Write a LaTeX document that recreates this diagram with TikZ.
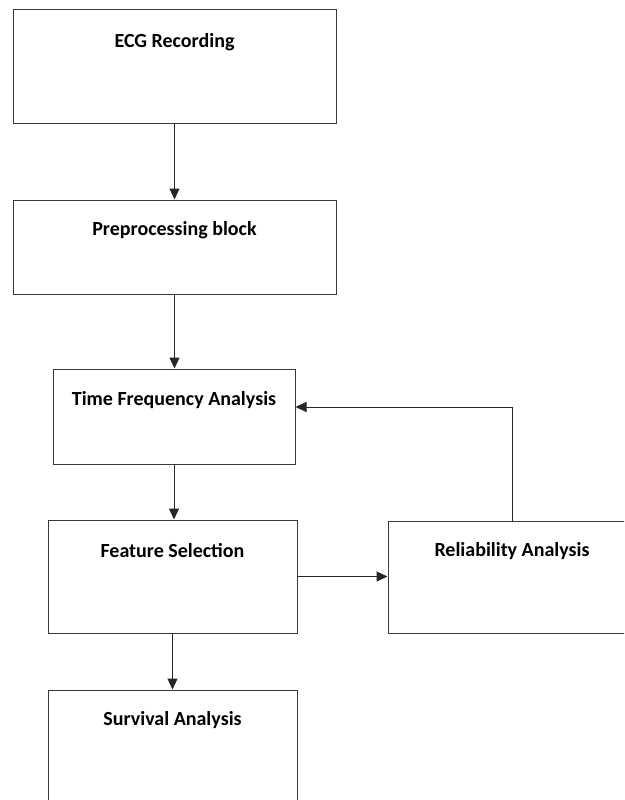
\documentclass[tikz,border=0pt]{standalone}
\usepackage{fontspec}
\setmainfont{Carlito}
\usepackage{tikz}
\usetikzlibrary{arrows.meta,positioning,calc}
\definecolor{BoxLine}{HTML}{3A3A3A}

\tikzset{
  stage/.style={draw=BoxLine,line width=1pt,rectangle,inner sep=0pt},
  flow/.style={draw=black!85,line width=1pt,-{Triangle[length=11pt,width=10pt]}}
}

\begin{document}
\begin{tikzpicture}[x=1pt,y=-1pt,font=\fontsize{20}{24}\selectfont\bfseries]
  \useasboundingbox (0,0) rectangle (624,800);
  \clip (0,0) rectangle (624,800);
  % blocks (text sits near the top of each box)
  \node[stage,minimum width=323pt,minimum height=113pt,
        label={[anchor=center,yshift=-33pt]north:ECG Recording}] (ecg) at (174.5,66.5) {};
  \node[stage,minimum width=323pt,minimum height=94pt,
        label={[anchor=center,yshift=-31pt]north:Preprocessing block}] (pre) at (174.5,247) {};
  \node[stage,minimum width=242pt,minimum height=95pt,
        label={[anchor=center,yshift=-32pt]north:Time Frequency Analysis}] (tfa) at (174,416.5) {};
  \node[stage,minimum width=249pt,minimum height=113pt,
        label={[anchor=center,yshift=-31pt]north:Feature Selection}] (fs) at (172.5,576.5) {};
  \node[stage,minimum width=248pt,minimum height=112pt,
        label={[anchor=center,yshift=-31pt]north:Reliability Analysis}] (rel) at (512,577) {};
  \node[stage,minimum width=249pt,minimum height=113pt,
        label={[anchor=center,yshift=-31pt]north:Survival Analysis}] (sur) at (172.5,746.5) {};
  % connectors
  \draw[flow] (ecg.south) -- (ecg.south |- pre.north);
  \draw[flow] (pre.south) -- (pre.south |- tfa.north);
  \draw[flow] (tfa.south) -- (tfa.south |- fs.north);
  \draw[flow] (fs.south) -- (fs.south |- sur.north);
  \draw[flow] (fs.east) -- (fs.east -| rel.west);
  \draw[flow] (rel.north) |- ([yshift=9.5pt]tfa.east);
\end{tikzpicture}
\end{document}
